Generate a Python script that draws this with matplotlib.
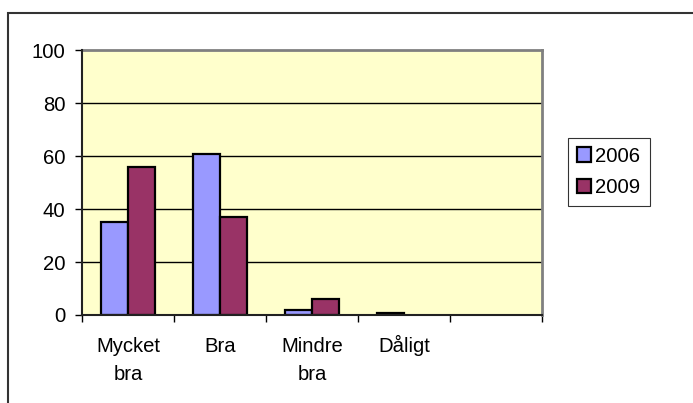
import matplotlib
matplotlib.use("Agg")
import matplotlib.pyplot as plt
from matplotlib.patches import Rectangle, Patch
from matplotlib.transforms import ScaledTranslation
import numpy as np

categories = ["Mycket\nbra", "Bra", "Mindre\nbra", "Dåligt", ""]
series_names = ["2006", "2009"]
values_2006 = [35, 61, 2, 0.8, 0]
values_2009 = [56, 37, 6, 0, 0]
y_ticks = [0, 20, 40, 60, 80, 100]

colors = ["#9999FF", "#993366"]

plt.rcParams["font.family"] = ["Liberation Sans", "DejaVu Sans"]
FS = 14.6

W, H = 693, 403
fig = plt.figure(figsize=(W / 100, H / 100), dpi=100)
fig.patch.set_facecolor("white")

# outer frame (extends beyond right/bottom edges)
fig.patches.append(Rectangle((8 / W, -0.1), 1.2, (H - 13) / H + 0.1,
                             transform=fig.transFigure, fill=False,
                             edgecolor="#333333", linewidth=1.5))

ax = fig.add_axes([82 / W, (H - 315) / H, (542 - 82) / W, (315 - 50.5) / H])
ax.set_facecolor("#FFFFCC")

x = np.arange(len(categories))
bw = 0.29
for vals, off, col, name in [(values_2006, -bw / 2, colors[0], series_names[0]),
                             (values_2009, bw / 2, colors[1], series_names[1])]:
    bars = ax.bar(x + off, vals, bw, color=col, edgecolor="black",
                  linewidth=1.6, zorder=3, label=name)
    for b, v in zip(bars, vals):
        if v == 0:
            b.set_visible(False)

ax.set_xlim(-0.5, len(categories) - 0.5)
ax.set_ylim(0, 100)
ax.set_yticks(y_ticks)
ax.set_yticklabels([str(v) for v in y_ticks], fontsize=FS)
for v in y_ticks[1:-1]:
    ax.axhline(v, color="black", linewidth=1.0, zorder=1)

ax.set_xticks(np.arange(len(categories) + 1) - 0.5)
ax.set_xticklabels([])
ax.tick_params(axis="x", which="major", length=5, width=1.0, direction="out")
ax.tick_params(axis="y", length=5, width=1.0, direction="out", pad=7)

# category labels: each line placed on its own baseline below the axis
for xi, lab in zip(x, categories):
    for i, line in enumerate(lab.split("\n")):
        if not line:
            continue
        dy = 37 + i * 28
        tr = ax.get_xaxis_transform() + ScaledTranslation(0, -dy / 100, fig.dpi_scale_trans)
        ax.text(xi, 0, line, transform=tr, ha="center", va="baseline",
                fontsize=FS, clip_on=False)

for s in ["left", "bottom"]:
    ax.spines[s].set_color("#222222")
    ax.spines[s].set_linewidth(1.5)
    ax.spines[s].set_zorder(4)
for s in ["top", "right"]:
    ax.spines[s].set_color("#808080")
    ax.spines[s].set_linewidth(2.0)

handles = [Patch(facecolor=colors[0], edgecolor="black", linewidth=1.6),
           Patch(facecolor=colors[1], edgecolor="black", linewidth=1.6)]
leg = fig.legend(handles, series_names, loc="upper left",
                 bbox_to_anchor=(568 / W, (H - 137.5) / H),
                 fontsize=FS, frameon=True, fancybox=False,
                 edgecolor="black", handlelength=0.7, handleheight=0.7,
                 handletextpad=0.2, borderpad=0.45, labelspacing=0.62,
                 borderaxespad=0)
leg.get_frame().set_linewidth(0.8)

fig.savefig("out.png", dpi=100)
